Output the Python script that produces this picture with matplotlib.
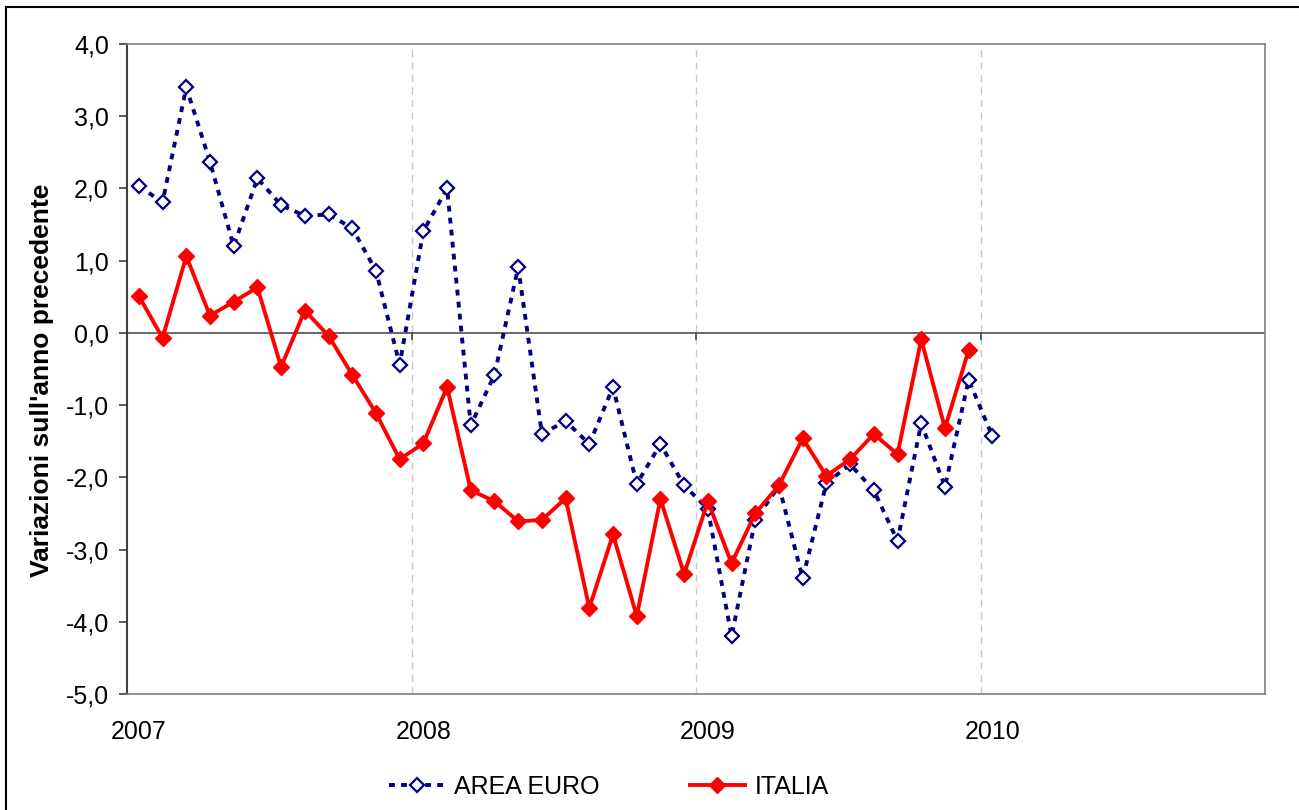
import matplotlib
matplotlib.use("Agg")
from matplotlib import pyplot as plt
from matplotlib.patches import Rectangle
import numpy as np

plt.rcParams['font.family'] = ['Liberation Sans', 'DejaVu Sans']

years = ['2007', '2008', '2009', '2010']

# monthly values, Jan 2007 onwards
area_euro = [2.03, 1.81, 3.40, 2.37, 1.20, 2.14, 1.77, 1.62, 1.64, 1.45, 0.86, -0.44,
             1.41, 2.00, -1.28, -0.58, 0.91, -1.40, -1.22, -1.54, -0.75, -2.09, -1.54, -2.11,
             -2.44, -4.20, -2.59, -2.12, -3.40, -2.08, -1.82, -2.18, -2.88, -1.25, -2.13, -0.65,
             -1.43]
italia = [0.51, -0.07, 1.06, 0.24, 0.43, 0.63, -0.47, 0.31, -0.04, -0.58, -1.11, -1.75,
          -1.53, -0.75, -2.18, -2.33, -2.61, -2.59, -2.29, -3.81, -2.79, -3.92, -2.30, -3.34,
          -2.33, -3.19, -2.50, -2.11, -1.46, -1.98, -1.75, -1.40, -1.68, -0.09, -1.32, -0.24]

x_euro = np.arange(len(area_euro)) + 0.5
x_ita = np.arange(len(italia)) + 0.5

fig = plt.figure(figsize=(12.99, 8.10), dpi=100)
ax = fig.add_axes([127/1299, 1 - 694/810, (1265 - 127)/1299, (694 - 44)/810])

# outer frame
fig.patches.append(Rectangle((6/1299, -0.1), 1.2, 1.1 - 7/810, transform=fig.transFigure,
                             fill=False, edgecolor='black', linewidth=1.5))

for t in [12, 24, 36]:
    ax.axvline(t, color='#c8c8c8', linestyle=(0, (5, 4)), linewidth=1, zorder=0)
    ax.plot([t, t], [0, -0.08], color='#404040', linewidth=1.2, zorder=1)
ax.axhline(0, color='#505050', linewidth=1.2, zorder=1)

ax.plot(x_euro, area_euro, color='#000080', linewidth=2.8, linestyle=(0, (1.5, 1.6)),
        marker='D', markersize=7.5, markerfacecolor='white', markeredgecolor='#000080',
        markeredgewidth=1.6, label='AREA EURO', zorder=3)
ax.plot(x_ita, italia, color='#ff0000', linewidth=2.8, marker='D', markersize=8,
        markerfacecolor='#ff0000', markeredgecolor='#ff0000', label='ITALIA', zorder=4)

ax.set_xlim(0, 48)
ax.set_ylim(-5, 4)
ax.set_yticks(np.arange(-5, 4.1, 1))
ax.set_yticklabels([f'{v:.1f}'.replace('.', ',') for v in np.arange(-5, 4.1, 1)], fontsize=18)
ax.set_xticks([0.5, 12.5, 24.5, 36.5])
ax.set_xticklabels(years, fontsize=18)
ax.tick_params(axis='x', length=0, pad=19)
ax.tick_params(axis='y', length=6, width=1.2, color='#404040', pad=7)

for s in ['top', 'right', 'bottom']:
    ax.spines[s].set_color('#808080')
    ax.spines[s].set_linewidth(1.2)
ax.spines['left'].set_color('#404040')
ax.spines['left'].set_linewidth(1.5)

ax.set_ylabel("Variazioni sull'anno precedente", fontsize=19, fontweight='bold')
ax.yaxis.set_label_coords(-0.064, 0.483)

fig.legend(loc='center', bbox_to_anchor=(0.469, 0.029), ncol=2, frameon=False, fontsize=18,
           columnspacing=3.6, handlelength=2.2, handletextpad=0.4)

fig.savefig('out.png', dpi=100)
